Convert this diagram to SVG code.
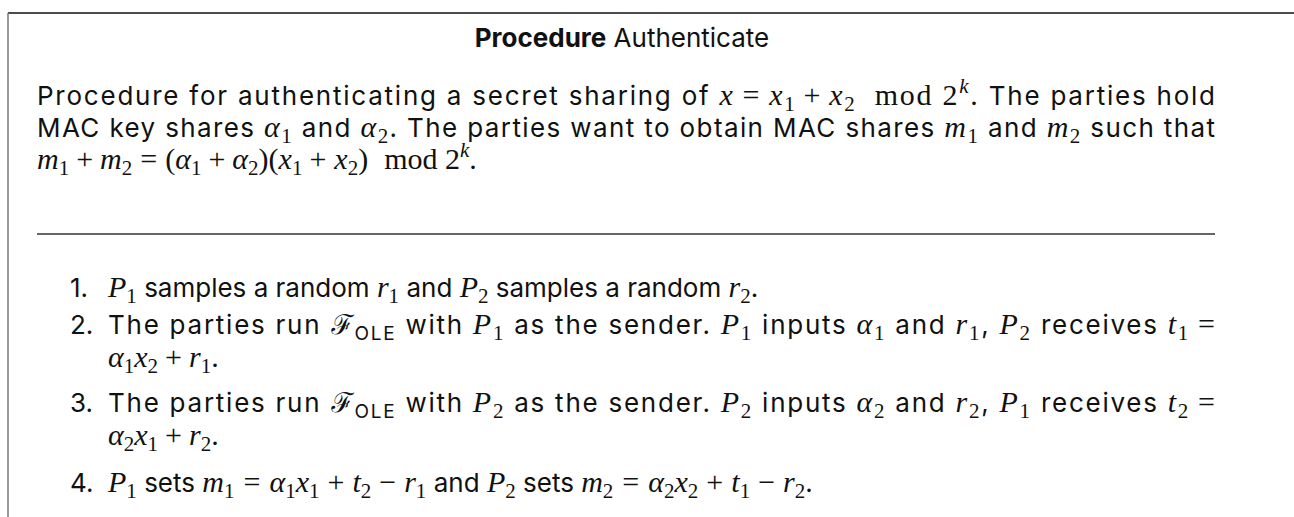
<svg xmlns="http://www.w3.org/2000/svg" width="1294" height="517" viewBox="0 0 1294 517">
  <style>
    text { font-family: Inter, "Noto Sans", "Liberation Sans", sans-serif; font-size: 26px; fill: #111; }
    .b { font-weight: 700; }
    .i { font-family: "Liberation Serif", "DejaVu Serif", serif; font-style: italic; font-size: 30px; }
    .r { font-family: "Liberation Serif", "DejaVu Serif", serif; font-size: 30px; }
    .s { font-family: "Liberation Serif", "DejaVu Serif", serif; font-size: 21px; }
    .k { font-family: "Liberation Serif", "DejaVu Serif", serif; font-style: italic; font-size: 21px; }
    .ss { font-family: Inter, "Liberation Sans", sans-serif; font-size: 19px; }
    .cal { font-family: "DejaVu Serif", "Noto Sans", serif; font-style: italic; font-size: 27px; }
    .top { fill: none; stroke: #111; stroke-width: 1.5; }
    .side { fill: none; stroke: #777; stroke-width: 1.5; }
  </style>

  <!-- outer frame: top and left edges -->
  <g id="frame">
    <line class="top" x1="8" y1="13" x2="1294" y2="13"/>
    <line class="side" x1="8" y1="13" x2="8" y2="517"/>
  </g>

  <!-- header -->
  <g id="title">
    <text x="622" y="47" text-anchor="middle"><tspan class="b">Procedure</tspan> Authenticate</text>
  </g>

  <!-- description -->
  <g id="description">
    <text x="37" y="105" textLength="1178" lengthAdjust="spacing">Procedure for authenticating a secret sharing of <tspan class="i">x</tspan><tspan class="r" dx="8">=</tspan><tspan class="i" dx="8">x</tspan><tspan class="s" dy="6">1</tspan><tspan class="r" dx="7" dy="-6">+</tspan><tspan class="i" dx="7">x</tspan><tspan class="s" dy="6">2</tspan><tspan class="r" dx="18" dy="-6">mod 2</tspan><tspan class="k" dy="-12">k</tspan><tspan class="r" dy="12">.</tspan> The parties hold</text>
    <text x="37" y="137" textLength="1178" lengthAdjust="spacing">MAC key shares <tspan class="i">α</tspan><tspan class="s" dy="6">1</tspan><tspan dy="-6"> and </tspan><tspan class="i">α</tspan><tspan class="s" dy="6">2</tspan><tspan dy="-6">. The parties want to obtain MAC shares </tspan><tspan class="i">m</tspan><tspan class="s" dy="6">1</tspan><tspan dy="-6"> and </tspan><tspan class="i">m</tspan><tspan class="s" dy="6">2</tspan><tspan dy="-6"> such that</tspan></text>
    <text x="37" y="169"><tspan class="i">m</tspan><tspan class="s" dy="6">1</tspan><tspan class="r" dx="7" dy="-6">+</tspan><tspan class="i" dx="7">m</tspan><tspan class="s" dy="6">2</tspan><tspan class="r" dx="8" dy="-6">=</tspan><tspan class="r" dx="8">(</tspan><tspan class="i">α</tspan><tspan class="s" dy="6">1</tspan><tspan class="r" dx="7" dy="-6">+</tspan><tspan class="i" dx="7">α</tspan><tspan class="s" dy="6">2</tspan><tspan class="r" dy="-6">)(</tspan><tspan class="i">x</tspan><tspan class="s" dy="6">1</tspan><tspan class="r" dx="7" dy="-6">+</tspan><tspan class="i" dx="8">x</tspan><tspan class="s" dy="6">2</tspan><tspan class="r" dy="-6">)</tspan><tspan class="r" dx="16">mod 2</tspan><tspan class="k" dy="-12">k</tspan><tspan class="r" dy="12">.</tspan></text>
  </g>

  <g id="rule">
    <line x1="37" y1="234" x2="1215" y2="234" stroke="#333" stroke-width="1.5"/>
  </g>

  <!-- numbered steps -->
  <g id="step1">
    <text x="70" y="297">1.</text>
    <text x="108" y="297"><tspan class="i">P</tspan><tspan class="s" dy="6">1</tspan><tspan dy="-6"> samples a random </tspan><tspan class="i">r</tspan><tspan class="s" dy="6">1</tspan><tspan dy="-6"> and </tspan><tspan class="i">P</tspan><tspan class="s" dy="6">2</tspan><tspan dy="-6"> samples a random </tspan><tspan class="i">r</tspan><tspan class="s" dy="6">2</tspan><tspan class="r" dy="-6">.</tspan></text>
  </g>

  <g id="step2">
    <text x="70" y="334">2.</text>
    <text x="108" y="334" textLength="1107" lengthAdjust="spacing">The parties run <tspan class="cal">ℱ</tspan><tspan class="ss" dy="6">OLE</tspan><tspan dy="-6"> with </tspan><tspan class="i">P</tspan><tspan class="s" dy="6">1</tspan><tspan dy="-6"> as the sender. </tspan><tspan class="i">P</tspan><tspan class="s" dy="6">1</tspan><tspan dy="-6"> inputs </tspan><tspan class="i">α</tspan><tspan class="s" dy="6">1</tspan><tspan dy="-6"> and </tspan><tspan class="i">r</tspan><tspan class="s" dy="6">1</tspan><tspan dy="-6">, </tspan><tspan class="i">P</tspan><tspan class="s" dy="6">2</tspan><tspan dy="-6"> receives </tspan><tspan class="i">t</tspan><tspan class="s" dy="6">1</tspan><tspan class="r" dx="8" dy="-6">=</tspan></text>
    <text x="108" y="367"><tspan class="i">α</tspan><tspan class="s" dy="6">1</tspan><tspan class="i" dy="-6">x</tspan><tspan class="s" dy="6">2</tspan><tspan class="r" dx="7" dy="-6">+</tspan><tspan class="i" dx="7">r</tspan><tspan class="s" dy="6">1</tspan><tspan class="r" dy="-6">.</tspan></text>
  </g>

  <g id="step3">
    <text x="70" y="412">3.</text>
    <text x="108" y="412" textLength="1107" lengthAdjust="spacing">The parties run <tspan class="cal">ℱ</tspan><tspan class="ss" dy="6">OLE</tspan><tspan dy="-6"> with </tspan><tspan class="i">P</tspan><tspan class="s" dy="6">2</tspan><tspan dy="-6"> as the sender. </tspan><tspan class="i">P</tspan><tspan class="s" dy="6">2</tspan><tspan dy="-6"> inputs </tspan><tspan class="i">α</tspan><tspan class="s" dy="6">2</tspan><tspan dy="-6"> and </tspan><tspan class="i">r</tspan><tspan class="s" dy="6">2</tspan><tspan dy="-6">, </tspan><tspan class="i">P</tspan><tspan class="s" dy="6">1</tspan><tspan dy="-6"> receives </tspan><tspan class="i">t</tspan><tspan class="s" dy="6">2</tspan><tspan class="r" dx="8" dy="-6">=</tspan></text>
    <text x="108" y="445"><tspan class="i">α</tspan><tspan class="s" dy="6">2</tspan><tspan class="i" dy="-6">x</tspan><tspan class="s" dy="6">1</tspan><tspan class="r" dx="7" dy="-6">+</tspan><tspan class="i" dx="7">r</tspan><tspan class="s" dy="6">2</tspan><tspan class="r" dy="-6">.</tspan></text>
  </g>

  <g id="step4">
    <text x="70" y="492">4.</text>
    <text x="108" y="492"><tspan class="i">P</tspan><tspan class="s" dy="6">1</tspan><tspan dy="-6"> sets </tspan><tspan class="i">m</tspan><tspan class="s" dy="6">1</tspan><tspan class="r" dx="9" dy="-6">=</tspan><tspan class="i" dx="9">α</tspan><tspan class="s" dy="6">1</tspan><tspan class="i" dy="-6">x</tspan><tspan class="s" dy="6">1</tspan><tspan class="r" dx="8" dy="-6">+</tspan><tspan class="i" dx="8">t</tspan><tspan class="s" dy="6">2</tspan><tspan class="r" dx="8" dy="-6">−</tspan><tspan class="i" dx="8">r</tspan><tspan class="s" dy="6">1</tspan><tspan dy="-6"> and </tspan><tspan class="i">P</tspan><tspan class="s" dy="6">2</tspan><tspan dy="-6"> sets </tspan><tspan class="i">m</tspan><tspan class="s" dy="6">2</tspan><tspan class="r" dx="9" dy="-6">=</tspan><tspan class="i" dx="9">α</tspan><tspan class="s" dy="6">2</tspan><tspan class="i" dy="-6">x</tspan><tspan class="s" dy="6">2</tspan><tspan class="r" dx="8" dy="-6">+</tspan><tspan class="i" dx="8">t</tspan><tspan class="s" dy="6">1</tspan><tspan class="r" dx="8" dy="-6">−</tspan><tspan class="i" dx="8">r</tspan><tspan class="s" dy="6">2</tspan><tspan class="r" dy="-6">.</tspan></text>
  </g>
</svg>
